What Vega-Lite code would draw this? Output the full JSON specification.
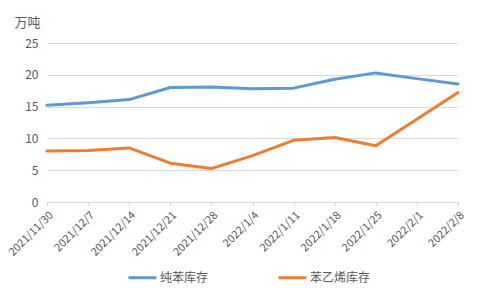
{
  "$schema": "https://vega.github.io/schema/vega-lite/v6.json",
  "width": 416,
  "height": 159,
  "autosize": "none",
  "padding": {"left": 47, "top": 43, "right": 17, "bottom": 86},
  "background": "white",
  "config": {
    "font": "Noto Sans CJK SC",
    "view": {"stroke": null}
  },
  "data": {
    "values": [
      {"date": "2021/11/30", "series": "纯苯库存", "value": 15.2},
      {"date": "2021/12/7", "series": "纯苯库存", "value": 15.6},
      {"date": "2021/12/14", "series": "纯苯库存", "value": 16.1},
      {"date": "2021/12/21", "series": "纯苯库存", "value": 18.0},
      {"date": "2021/12/28", "series": "纯苯库存", "value": 18.1},
      {"date": "2022/1/4", "series": "纯苯库存", "value": 17.8},
      {"date": "2022/1/11", "series": "纯苯库存", "value": 17.9},
      {"date": "2022/1/18", "series": "纯苯库存", "value": 19.3},
      {"date": "2022/1/25", "series": "纯苯库存", "value": 20.3},
      {"date": "2022/2/1", "series": "纯苯库存", "value": 19.4},
      {"date": "2022/2/8", "series": "纯苯库存", "value": 18.55},
      {"date": "2021/11/30", "series": "苯乙烯库存", "value": 8.0},
      {"date": "2021/12/7", "series": "苯乙烯库存", "value": 8.1},
      {"date": "2021/12/14", "series": "苯乙烯库存", "value": 8.5},
      {"date": "2021/12/21", "series": "苯乙烯库存", "value": 6.1},
      {"date": "2021/12/28", "series": "苯乙烯库存", "value": 5.25},
      {"date": "2022/1/4", "series": "苯乙烯库存", "value": 7.3},
      {"date": "2022/1/11", "series": "苯乙烯库存", "value": 9.7},
      {"date": "2022/1/18", "series": "苯乙烯库存", "value": 10.15},
      {"date": "2022/1/25", "series": "苯乙烯库存", "value": 8.85},
      {"date": "2022/2/1", "series": "苯乙烯库存", "value": 13.0},
      {"date": "2022/2/8", "series": "苯乙烯库存", "value": 17.2}
    ]
  },
  "mark": {"type": "line", "strokeWidth": 3, "strokeCap": "round", "strokeJoin": "round"},
  "encoding": {
    "x": {
      "field": "date",
      "type": "ordinal",
      "sort": null,
      "scale": {"type": "point", "range": [0, 411], "padding": 0},
      "axis": {
        "title": null,
        "labelAngle": -45,
        "labelAlign": "right",
        "labelBaseline": "top",
        "labelFontSize": 11,
        "labelColor": "#595959",
        "labelPadding": 3,
        "domainColor": "#d9d9d9",
        "tickColor": "#d9d9d9",
        "tickSize": 4,
        "grid": false
      }
    },
    "y": {
      "field": "value",
      "type": "quantitative",
      "scale": {"domain": [0, 25]},
      "axis": {
        "values": [0, 5, 10, 15, 20, 25],
        "title": "万吨",
        "titleAngle": 0,
        "titleAlign": "left",
        "titleBaseline": "middle",
        "titleX": -33,
        "titleY": -21,
        "titleFontSize": 13,
        "titleFontWeight": "normal",
        "titleColor": "#595959",
        "labelFontSize": 12,
        "labelColor": "#595959",
        "labelPadding": 9,
        "domain": false,
        "ticks": false,
        "gridColor": "#d9d9d9",
        "gridWidth": 1
      }
    },
    "color": {
      "field": "series",
      "type": "nominal",
      "scale": {"domain": ["纯苯库存", "苯乙烯库存"], "range": ["#5B9BD5", "#ED7D31"]},
      "legend": {
        "title": null,
        "orient": "none",
        "direction": "horizontal",
        "legendX": 80,
        "legendY": 219,
        "symbolType": "stroke",
        "symbolSize": 784,
        "symbolStrokeWidth": 3,
        "labelOffset": 2,
        "labelFontSize": 12,
        "labelColor": "#595959",
        "columnPadding": 63
      }
    }
  }
}
